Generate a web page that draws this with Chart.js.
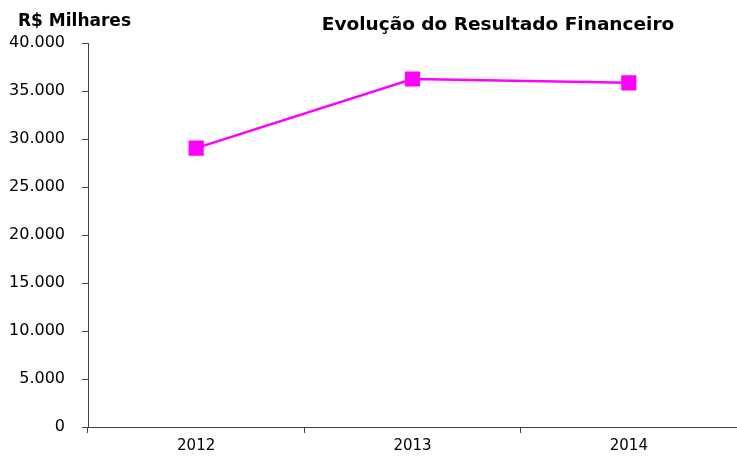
<!DOCTYPE html>
<html>
<head>
<meta charset="utf-8">
<script src="https://cdn.jsdelivr.net/npm/chart.js@4"></script>
<style>
  html, body { margin: 0; padding: 0; background: #fff; overflow: hidden; }
  #wrap { width: 737px; height: 457px; position: relative; }
</style>
</head>
<body>
<div id="wrap"><canvas id="myChart"></canvas></div>
<script>
const anos = ['2012', '2013', '2014'];
const resultado = [29050, 36250, 35850];
const yTicks = [0, 5000, 10000, 15000, 20000, 25000, 30000, 35000, 40000];

const tituloGrafico = 'Evolução do Resultado Financeiro';
const tituloEixo = 'R$ Milhares';

const fmt = (v) => String(v).replace(/\B(?=(\d{3})+(?!\d))/g, '.');

// textos fora da area do grafico
const textos = {
  id: 'textos',
  afterDraw(chart) {
    const c = chart.ctx;
    c.save();
    c.fillStyle = '#000';
    c.textBaseline = 'middle';
    c.textAlign = 'left';
    c.font = 'bold 17px "DejaVu Sans"';
    c.fillText(tituloEixo, 18, 22);
    c.textAlign = 'center';
    c.font = 'bold 18.5px "DejaVu Sans"';
    c.fillText(tituloGrafico, 498, 25);
    c.restore();
  }
};

const ctx = document.getElementById('myChart');
new Chart(ctx, {
  type: 'line',
  data: {
    labels: anos,
    datasets: [{
      label: 'Resultado',
      data: resultado,
      borderColor: '#ff00ff',
      backgroundColor: '#ff00ff',
      borderWidth: 2.5,
      pointStyle: 'rect',
      pointRadius: 9,
      pointHoverRadius: 9,
      tension: 0
    }]
  },
  options: {
    responsive: true,
    maintainAspectRatio: false,
    animation: false,
    layout: { autoPadding: false, padding: { top: 43, right: 0, left: 0, bottom: 0 } },
    plugins: {
      legend: { display: false },
      title: { display: false },
      tooltip: { enabled: false }
    },
    scales: {
      x: {
        offset: true,
        // o eixo continua um pouco alem da borda direita, como no original
        afterSetDimensions(s) { s.right += 6; s.width += 6; },
        afterFit(s) { s.height = 30; },
        grid: { offset: true, drawOnChartArea: false, drawTicks: true, tickLength: 6, color: '#404040' },
        border: { color: '#404040', width: 1 },
        ticks: { color: '#000', font: { family: 'DejaVu Sans', size: 15 }, padding: 4 }
      },
      y: {
        min: 0,
        max: 40000,
        afterFit(s) { s.width = 88; },
        afterBuildTicks(s) { s.ticks = yTicks.map(v => ({ value: v })); },
        grid: { drawOnChartArea: false, drawTicks: true, tickLength: 6, color: '#404040' },
        border: { color: '#404040', width: 1 },
        ticks: {
          color: '#000',
          font: { family: 'DejaVu Sans', size: 16 },
          padding: 17,
          callback: (v) => fmt(v)
        }
      }
    }
  },
  plugins: [textos]
});
</script>
</body>
</html>
